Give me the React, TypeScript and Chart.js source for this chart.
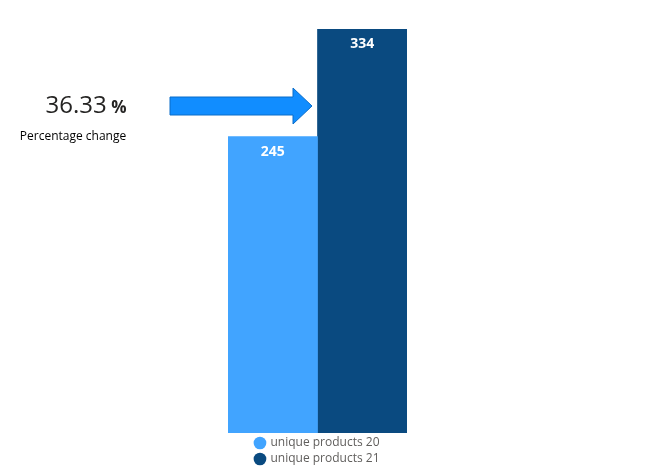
import { useRef, useEffect } from 'react';
import { Chart, registerables } from 'chart.js';
Chart.register(...registerables);

const categories = ['products'];
const seriesNames = ['unique products 20', 'unique products 21'];
const values20 = [245];
const values21 = [334];
const percentChange = '36.33';
const colors = ['#41A4FF', '#0A4A80'];

const font = '"Segoe UI", "Open Sans", "Noto Sans", sans-serif';

const overlay = {
  id: 'overlay',
  afterDatasetsDraw(chart: Chart) {
    const ctx = chart.ctx;
    ctx.save();
    // value labels
    chart.data.datasets.forEach((_, i) => {
      const meta = chart.getDatasetMeta(i);
      meta.data.forEach((el: any, j) => {
        ctx.fillStyle = '#fff';
        ctx.font = `bold 14px ${font}`;
        ctx.textAlign = 'center';
        ctx.textBaseline = 'top';
        ctx.fillText(String(chart.data.datasets[i].data[j]), el.x, el.y + 8);
      });
    });
    // KPI text
    ctx.fillStyle = '#252423';
    ctx.textAlign = 'center';
    ctx.textBaseline = 'alphabetic';
    ctx.font = `24px ${font}`;
    const main = percentChange;
    ctx.textAlign = 'left';
    const w = ctx.measureText(main).width;
    ctx.font = `bold 17px ${font}`;
    const w2 = ctx.measureText(' %').width;
    const start = 86 - (w + w2) / 2;
    ctx.font = `24px ${font}`;
    ctx.fillText(main, start, 113);
    ctx.font = `bold 17px ${font}`;
    ctx.fillText(' %', start + w, 113);
    ctx.font = `12px ${font}`;
    ctx.textAlign = 'center';
    ctx.fillStyle = '#000';
    ctx.fillText('Percentage change', 73, 140);
    // arrow
    ctx.beginPath();
    ctx.moveTo(170, 97);
    ctx.lineTo(293, 97);
    ctx.lineTo(293, 88);
    ctx.lineTo(312, 106);
    ctx.lineTo(293, 124);
    ctx.lineTo(293, 115);
    ctx.lineTo(170, 115);
    ctx.closePath();
    ctx.fillStyle = '#118DFF';
    ctx.fill();
    ctx.strokeStyle = '#0A6CC8';
    ctx.lineWidth = 1;
    ctx.stroke();
    ctx.restore();
  },
};

export default function App() {
  const ref = useRef<HTMLCanvasElement>(null);
  useEffect(() => {
    if (!ref.current) return;
    const chart = new Chart(ref.current, {
      type: 'bar',
      data: {
        labels: categories,
        datasets: [
          { label: seriesNames[0], data: values20, backgroundColor: colors[0] },
          { label: seriesNames[1], data: values21, backgroundColor: colors[1] },
        ],
      },
      options: {
        animation: false,
        responsive: false,
        layout: { padding: { left: 228, right: 248, top: 29, bottom: 0 } },
        datasets: { bar: { categoryPercentage: 1, barPercentage: 1 } },
        scales: {
          x: { display: false },
          y: { display: false, min: 0, max: 334 },
        },
        plugins: {
          tooltip: { enabled: false },
          legend: {
            position: 'bottom',
            labels: {
              usePointStyle: true,
              pointStyle: 'circle',
              boxWidth: 9,
              boxHeight: 9,
              padding: 4,
              color: '#605E5C',
              font: { size: 12, family: font },
            },
          },
        },
      },
      plugins: [overlay],
    });
    return () => chart.destroy();
  }, []);
  return (
    <div style={{ position: 'fixed', left: 0, top: 0, width: 655, height: 475, background: '#fff' }}>
      <canvas ref={ref} width={655} height={475} />
    </div>
  );
}
